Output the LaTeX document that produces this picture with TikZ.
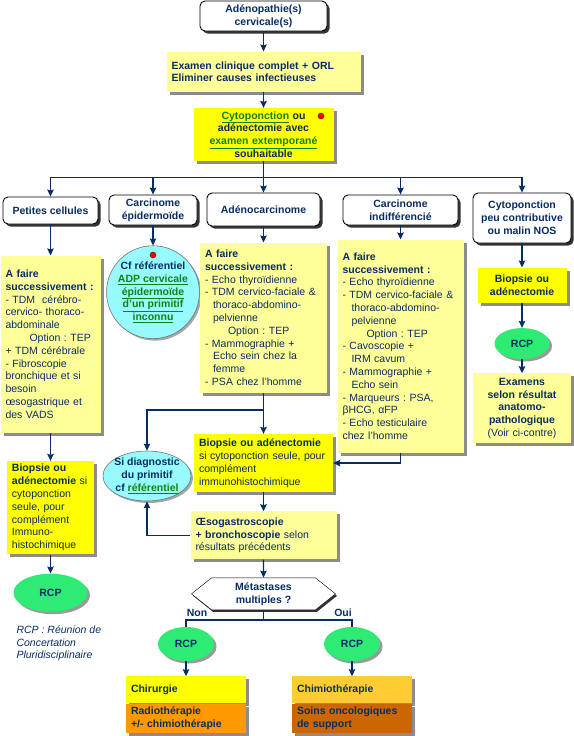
\documentclass[tikz,border=0pt]{standalone}
\usepackage{fontspec}
\setmainfont{Liberation Sans}
\usepackage{tikz}
\usetikzlibrary{arrows.meta,positioning,shapes.geometric,shapes.symbols,shadows}
\definecolor{marine}{RGB}{8,45,100}
\definecolor{jaunepale}{RGB}{255,255,153}
\definecolor{jaunevif}{RGB}{255,255,0}
\definecolor{vertrcp}{RGB}{45,235,115}
\definecolor{cyanclair}{RGB}{150,250,255}
\definecolor{vertlien}{RGB}{20,130,20}
\definecolor{orangeA}{RGB}{255,153,0}
\definecolor{orangeB}{RGB}{255,204,51}
\definecolor{orangeC}{RGB}{204,102,0}
\newcommand{\tailletexte}{\fontsize{10.5}{12.8}\selectfont\frenchspacing}
\tikzset{
    %Define standard arrow tip
    >={Stealth[length=7pt,width=6.5pt,inset=1pt]},
    %Define style for boxes
    titre/.style={
           rectangle,
           rounded corners=5pt,
           draw=black, line width=0.9pt,
           fill=white,
           text=marine,
           font=\tailletexte\bfseries,
           align=center,
           inner sep=2pt,
           drop shadow={shadow xshift=2.5pt, shadow yshift=-2.5pt, fill=black!80, opacity=1}},
    pale/.style={
           rectangle,
           fill=jaunepale,
           text=marine,
           font=\tailletexte,
           align=left,
           inner xsep=5pt,
           drop shadow={shadow xshift=3pt, shadow yshift=-3pt, fill=black!45, opacity=1}},
    vif/.style={
           pale,
           fill=jaunevif},
    bloc/.style={
           pale,
           text width=110pt,
           minimum height=27pt,
           font=\tailletexte\bfseries},
    rcp/.style={
           ellipse,
           fill=vertrcp,
           text=marine,
           font=\tailletexte\bfseries,
           drop shadow={shadow xshift=2.5pt, shadow yshift=-2.5pt, fill=black!40, opacity=1}},
    cercle/.style={
           circle,
           fill=cyanclair,
           draw=black!55, line width=0.6pt,
           text=marine,
           font=\tailletexte\bfseries,
           align=center,
           inner sep=0pt,
           drop shadow={shadow xshift=2pt, shadow yshift=-2pt, fill=black!35, opacity=1}},
    hexa/.style={
           signal, signal to=west and east, signal from=nowhere,
           signal pointer angle=77,
           draw=black, fill=white,
           text=marine,
           font=\tailletexte\bfseries,
           align=center,
           inner ysep=1pt,
           drop shadow={shadow xshift=1.5pt, shadow yshift=-2pt, fill=black!80, opacity=1}},
    etiq/.style={
           text=marine,
           font=\tailletexte\bfseries},
    legende/.style={
           text=marine,
           font=\tailletexte\itshape,
           align=left},
    point/.style={
           circle,
           fill=red, draw=red!40!black,
           inner sep=0pt,
           minimum size=6pt},
    % Define arrow style
    fleche/.style={
           ->,
           draw=marine,
           line width=1.3pt},
    trait/.style={
           draw=marine,
           line width=1.3pt}
}
\newcommand{\lien}[1]{\textcolor{vertlien}{\underline{#1}}}

\begin{document}
\begin{tikzpicture}[x=1pt,y=-1pt,node distance=20pt]
\useasboundingbox (0,0) rectangle (573,736);
 %nodes
\node[titre, minimum width=127pt, minimum height=30pt] (adp) at (263.5,16) {Adénopathie(s)\\cervicale(s)};
\node[pale, font=\tailletexte\bfseries, text width=184pt, minimum height=40pt, below=20pt of adp] (exam) {Examen clinique complet + ORL\\Eliminer causes infectieuses};
\node[vif, font=\tailletexte\bfseries, align=center, text width=130pt, minimum height=53pt, below=16pt of exam] (cyto) {\lien{Cytoponction} ou\\adénectomie avec\\\lien{examen extemporané}\\souhaitable};
\node[point] (p1) at (321,116) {};

\node[titre, minimum width=95pt, minimum height=27pt] (pc) at (50.5,210.5) {Petites cellules};
\node[titre, minimum width=88pt, minimum height=30pt] (epi) at (153,210) {Carcinome\\épidermoïde};
\node[titre, minimum width=113pt, minimum height=33pt] (adk) at (263.5,209.5) {Adénocarcinome};
\node[titre, minimum width=115pt, minimum height=30pt] (ind) at (400.5,210) {Carcinome\\indifférencié};
\node[titre, minimum width=98pt, minimum height=50pt] (nos) at (522,218) {Cytoponction\\peu contributive\\ou malin NOS};

% petites cellules
\node[pale, text width=90pt, minimum height=177pt, below=31pt of pc] (pcx) {\textbf{A faire}\\\textbf{successivement :}\\- TDM~ cérébro-\\cervico- thoraco-\\abdominale\\\hspace*{24pt}Option : TEP\\+ TDM cérébrale\\- Fibroscopie\\bronchique et si\\besoin\\œsogastrique et\\des VADS};
\node[vif, text width=77pt, minimum height=89pt, below=28pt of pcx] (pcb) {\textbf{Biopsie ou}\\\textbf{adénectomie} si\\cytoponction\\seule, pour\\complément\\Immuno-\\histochimique};
\node[rcp, minimum width=74pt, minimum height=38pt, below=19pt of pcb] (pcr) {RCP};
\node[legende, anchor=north west] (leg) at (13,622) {RCP : Réunion de\\Concertation\\Pluridisciplinaire};

% epidermoide
\node[cercle, minimum size=88pt, below=20pt of epi] (epic) {Cf référentiel\\\lien{ADP cervicale}\\\lien{épidermoïde}\\\lien{d’un primitif}\\\lien{inconnu}};
\node[point] (p2) at (153,255) {};

% adenocarcinome
\node[pale, text width=117pt, minimum height=150pt, below=16pt of adk] (adkx) {\textbf{A faire}\\\textbf{successivement :}\\- Echo thyroïdienne\\- TDM cervico-faciale \&\\\hspace*{8pt}thoraco-abdomino-\\\hspace*{8pt}pelvienne\\\hspace*{23pt}Option : TEP\\- Mammographie +\\\hspace*{8pt}Echo sein chez la\\\hspace*{8pt}femme\\- PSA chez l’homme};
\node[vif, text width=129pt, minimum height=58pt, below=41pt of adkx] (bio) {\textbf{Biopsie ou adénectomie}\\si cytoponction seule, pour\\complément\\immunohistochimique};
\node[pale, text width=136pt, minimum height=48pt, below=19pt of bio] (oeso) {\textbf{Œsogastroscopie}\\\textbf{+ bronchoscopie} selon\\résultats précédents};
\node[hexa, minimum width=144pt, minimum height=32pt, below=18pt of oeso] (meta) {Métastases\\multiples ?};
\node[cercle, ellipse, inner xsep=-3pt, inner ysep=-5pt, minimum width=88pt, minimum height=50pt] (diag) at (147,476) {Si diagnostic\\du primitif\\cf \lien{référentiel}};

% indifferencie
\node[pale, text width=116pt, minimum height=213pt, below=14pt of ind] (indx) {\textbf{A faire}\\\textbf{successivement :}\\- Echo thyroïdienne\\- TDM cervico-faciale \&\\\hspace*{9pt}thoraco-abdomino-\\\hspace*{9pt}pelvienne\\\hspace*{24pt}Option : TEP\\- Cavoscopie +\\\hspace*{9pt}IRM cavum\\- Mammographie +\\\hspace*{9pt}Echo sein\\- Marqueurs : PSA,\\βHCG, αFP\\- Echo testiculaire\\chez l’homme};

% non contributive
\node[vif, font=\tailletexte\bfseries, align=center, text width=79pt, minimum height=35pt, below=24pt of nos] (nosb) {Biopsie ou\\adénectomie};
\node[rcp, minimum width=55pt, minimum height=31pt, below=25pt of nosb] (nosr) {RCP};
\node[pale, align=center, text width=88pt, minimum height=70pt, below=14pt of nosr] (nosx) {\textbf{Examens}\\\textbf{selon résultat}\\\textbf{anatomo-}\\\textbf{pathologique}\\(Voir ci-contre)};

% metastases
\node[rcp, minimum width=56pt, minimum height=34pt] (rcpn) at (186,644) {RCP};
\node[rcp, minimum width=56pt, minimum height=34pt] (rcpo) at (352,644) {RCP};
\node[etiq] (non) at (197,613) {Non};
\node[etiq] (oui) at (343,613) {Oui};
\node[bloc, fill=jaunevif, below=15pt of rcpn] (chir) {Chirurgie};
\node[bloc, fill=orangeA, minimum height=29pt, below=0pt of chir] (radio) {Radiothérapie\\+/- chimiothérapie};
\node[bloc, fill=orangeB, below=15pt of rcpo] (chimio) {Chimiothérapie};
\node[bloc, fill=orangeC, minimum height=29pt, below=0pt of chimio] (soins) {Soins oncologiques\\de support};

 %connectors
\draw[fleche] (adp) -- (exam);
\draw[fleche] (exam) -- (cyto);
\foreach \c in {pc,epi,adk,ind,nos}
    \draw[fleche] (cyto.south) -- ++(0,16) -| (\c.north);
\draw[fleche] (pc) -- (pcx);
\draw[fleche] (pcx) -- (pcb);
\draw[fleche] (pcb) -- (pcr);
\draw[fleche] (epi) -- (epic);
\draw[fleche] (adk) -- (adkx);
\draw[fleche] (adkx) -- (bio);
\draw[fleche] (adkx.south) -- ++(0,17) -| (diag.north);
\draw[fleche] (ind) -- (indx);
\draw[fleche] (indx.south) |- (bio.east);
\draw[fleche] (bio) -- (oeso);
\draw[fleche] (oeso.west) -| (diag.south);
\draw[fleche] (oeso) -- (meta);
\draw[trait] (meta.south) -- ++(0,10) -| (rcpn.north);
\draw[trait] (meta.south) -- ++(0,10) -| (rcpo.north);
\draw[fleche] (rcpn) -- (chir);
\draw[fleche] (rcpo) -- (chimio);
\draw[fleche] (nos) -- (nosb);
\draw[fleche] (nosb) -- (nosr);
\draw[fleche] (nosr) -- (nosx);
\end{tikzpicture}
\end{document}
